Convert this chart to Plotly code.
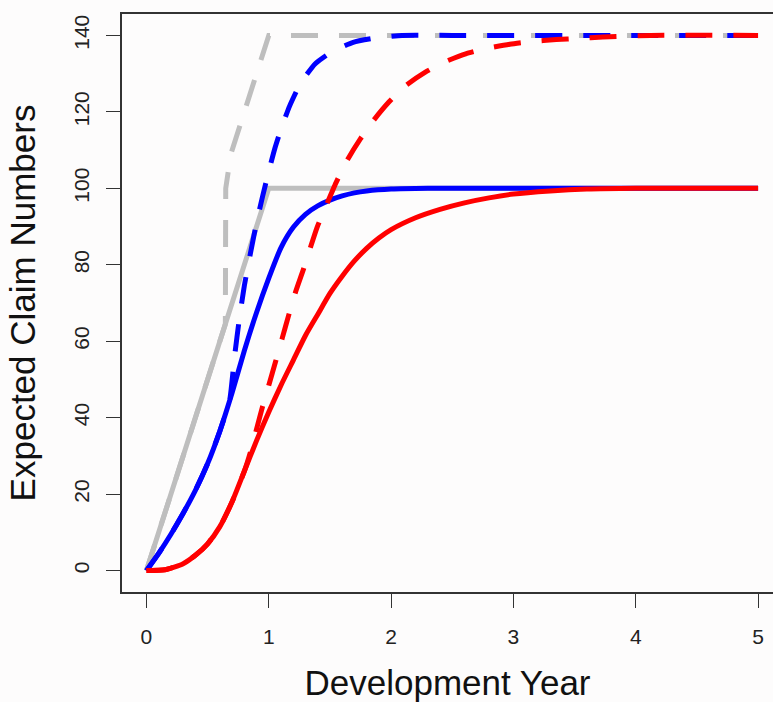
import plotly.graph_objects as go

# ---- data ----
grey_solid_x = [0, 1, 5]
grey_solid_y = [0, 100, 100]

grey_dash_x = [0, 0.645, 0.648, 0.665, 0.69, 0.76, 0.82, 0.89, 0.93, 1.0, 5]
grey_dash_y = [0, 64.5, 100, 104.5, 109, 116, 122, 129, 133.5, 140, 140]

blue_solid_x = [0, 0.1, 0.2, 0.3, 0.4, 0.5, 0.6, 0.7, 0.8, 0.9, 1.0, 1.1, 1.2, 1.3, 1.4, 1.5,
                1.6, 1.7, 1.8, 2.0, 2.3, 3.0, 4.0, 5.0]
blue_solid_y = [0, 4.5, 9.5, 15, 21, 28, 36.5, 46.5, 57.5, 67.5, 76.5, 84.5, 89.8, 93.2, 95.4, 96.9,
                98.0, 98.8, 99.3, 99.8, 100, 100, 100, 100]

blue_dash_x = [0, 0.1, 0.2, 0.3, 0.4, 0.5, 0.6, 0.68, 0.72, 0.76, 0.8, 0.85, 0.9, 0.95, 1.0,
               1.05, 1.1, 1.17, 1.26, 1.38, 1.52, 1.69, 1.87, 2.09, 2.5, 5.0]
blue_dash_y = [0, 4.5, 9.5, 15, 21, 28, 36.5, 44.5, 56, 66, 74.5, 83, 91, 98, 104.5,
               110.5, 115.5, 121.5, 127.5, 132.6, 135.8, 138.2, 139.3, 140, 140, 140]

red_solid_x = [0, 0.15, 0.3, 0.4, 0.5, 0.6, 0.7, 0.8, 0.9, 1.0, 1.1, 1.2, 1.3, 1.4, 1.5, 1.6, 1.7,
               1.8, 1.9, 2.0, 2.2, 2.4, 2.6, 2.8, 3.0, 3.3, 3.6, 4.0, 5.0]
red_solid_y = [0, 0.2, 1.8, 4, 7, 11.5, 18, 26, 34, 41.5, 48.5, 55, 61.5, 67, 72.5, 77, 81,
               84.3, 87, 89.2, 92.3, 94.5, 96.2, 97.5, 98.5, 99.3, 99.8, 100, 100]

red_dash_x = [0, 0.15, 0.3, 0.4, 0.5, 0.6, 0.7, 0.8, 0.85, 0.9, 0.95, 1.0, 1.054, 1.11, 1.16, 1.22,
              1.285, 1.34, 1.395, 1.476, 1.55, 1.64, 1.75, 1.857, 1.98, 2.116, 2.28, 2.44, 2.61,
              2.78, 2.97, 3.14, 3.35, 3.53, 3.73, 4.12, 5.0]
red_dash_y = [0, 0.2, 1.8, 4, 7, 11.5, 18, 26, 31, 37, 43, 48.5, 54.5, 60.8, 66.5, 73, 79,
              84.5, 89.8, 96, 101.5, 107.3, 113, 117.8, 122.5, 126.8, 130.4, 133.1, 135.2,
              136.6, 137.7, 138.4, 138.9, 139.2, 139.6, 140, 140]

x_ticks = [0, 1, 2, 3, 4, 5]
y_ticks = [0, 20, 40, 60, 80, 100, 120, 140]

GREY = "#bebebe"
BLUE = "#0000ff"
RED = "#ff0000"
LW = 5
DASH = "27px,21px"

fig = go.Figure()
fig.add_trace(go.Scatter(x=grey_solid_x, y=grey_solid_y, mode="lines",
                         line=dict(color=GREY, width=LW)))
fig.add_trace(go.Scatter(x=grey_dash_x, y=grey_dash_y, mode="lines",
                         line=dict(color=GREY, width=LW, dash=DASH)))
fig.add_trace(go.Scatter(x=blue_solid_x, y=blue_solid_y, mode="lines",
                         line=dict(color=BLUE, width=LW, shape="spline", smoothing=0.6)))
fig.add_trace(go.Scatter(x=blue_dash_x, y=blue_dash_y, mode="lines",
                         line=dict(color=BLUE, width=LW, dash=DASH, shape="spline", smoothing=0.5)))
fig.add_trace(go.Scatter(x=red_solid_x, y=red_solid_y, mode="lines",
                         line=dict(color=RED, width=LW, shape="spline", smoothing=0.6)))
fig.add_trace(go.Scatter(x=red_dash_x, y=red_dash_y, mode="lines",
                         line=dict(color=RED, width=LW, dash=DASH, shape="spline", smoothing=0.5)))

BG = "#fdfcfc"
FONT = "Liberation Sans, Arial, sans-serif"

fig.update_layout(
    width=773, height=702,
    margin=dict(l=121.5, r=0, t=13.6, b=109.5, pad=0),
    paper_bgcolor=BG, plot_bgcolor=BG,
    showlegend=False,
    font=dict(family=FONT, color="#222222"),
    xaxis=dict(
        range=[-0.2, 5.122], tickvals=x_ticks, ticktext=[str(v) for v in x_ticks],
        showgrid=False, zeroline=False, automargin=False,
        showline=True, linecolor="#333333", linewidth=1.5, mirror=True,
        ticks="outside", ticklen=14, tickwidth=1.3, tickcolor="#333333",
        tickfont=dict(size=21, color="#222222"), ticklabelstandoff=11,
        title=dict(text="Development Year", font=dict(size=35, color="#111111"), standoff=33),
    ),
    yaxis=dict(
        range=[-5.6, 145.6], tickvals=y_ticks, ticktext=[str(v) for v in y_ticks],
        showgrid=False, zeroline=False, automargin=False,
        showline=True, linecolor="#333333", linewidth=1.5, mirror=False,
        ticks="outside", ticklen=14, tickwidth=1.3, tickcolor="#333333",
        tickangle=-90,
        tickfont=dict(size=21, color="#222222"), ticklabelstandoff=9,
        title=dict(text="Expected Claim Numbers", font=dict(size=35, color="#111111"), standoff=24),
    ),
)

fig.write_html("out.html")
